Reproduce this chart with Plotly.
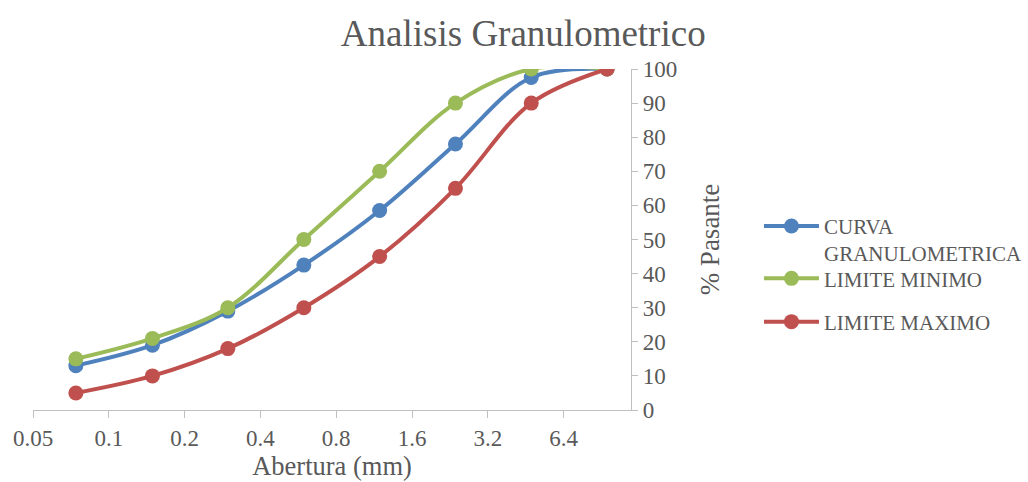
import plotly.graph_objects as go
import math

aberturas = [0.074, 0.149, 0.297, 0.595, 1.19, 2.38, 4.76, 9.52]
curva = [13, 19, 29, 42.5, 58.5, 78, 97.5, 100]
limite_minimo = [15, 21, 30, 50, 70, 90, 100, 100]
limite_maximo = [5, 10, 18, 30, 45, 65, 90, 100]
x_ticks = [0.05, 0.1, 0.2, 0.4, 0.8, 1.6, 3.2, 6.4]
x_tick_text = ["0.05", "0.1", "0.2", "0.4", "0.8", "1.6", "3.2", "6.4"]
y_ticks = list(range(0, 101, 10))

FONT = "Liberation Serif"
GRAY = "#595959"

series = [
    ("CURVA<br>GRANULOMETRICA", curva, "#4F81BD", "legend"),
    ("LIMITE MINIMO", limite_minimo, "#9BBB59", "legend2"),
    ("LIMITE MAXIMO", limite_maximo, "#C0504D", "legend3"),
]

fig = go.Figure()
for name, vals, color, leg in series:
    fig.add_trace(go.Scatter(
        x=aberturas, y=vals, name=name, mode="lines+markers",
        line=dict(color=color, width=4, shape="spline", smoothing=1.0),
        marker=dict(color=color, size=15),
        legend=leg, showlegend=True,
    ))

legend_common = dict(
    xanchor="left", yanchor="middle",
    font=dict(family=FONT, size=21, color=GRAY),
    valign="top", itemwidth=55,
    bgcolor="rgba(0,0,0,0)",
)
lx = 1.214

fig.update_layout(
    width=1028, height=482,
    showlegend=True,
    paper_bgcolor="white", plot_bgcolor="white",
    margin=dict(l=33, r=397, t=69, b=72, autoexpand=False),
    font=dict(family=FONT, color=GRAY, size=23),
    title=dict(text="Analisis Granulometrico", x=0.509, xanchor="center",
               y=0.932, yanchor="middle",
               font=dict(family=FONT, size=37, color=GRAY)),
    xaxis=dict(
        type="log", range=[math.log10(0.05), math.log10(11.85)],
        tickvals=x_ticks, ticktext=x_tick_text,
        showgrid=False, zeroline=False,
        showline=True, linecolor="#BFBFBF", linewidth=1.3,
        ticks="outside", ticklen=7, tickcolor="#BFBFBF",
        tickfont=dict(family=FONT, size=23, color=GRAY),
        title=dict(text="Abertura (mm)", standoff=2,
                   font=dict(family=FONT, size=26.5, color=GRAY)),
    ),
    yaxis=dict(
        side="right", range=[0, 100], tickvals=y_ticks,
        showgrid=False, zeroline=False,
        showline=True, linecolor="#BFBFBF", linewidth=1.3,
        ticks="outside", ticklen=6, tickcolor="#BFBFBF",
        tickfont=dict(family=FONT, size=23, color=GRAY),
        title=dict(text="% Pasante", standoff=23,
                   font=dict(family=FONT, size=27, color=GRAY)),
    ),
    legend=dict(x=lx, y=0.499, **legend_common),
    legend2=dict(x=lx, y=0.385, **legend_common),
    legend3=dict(x=lx, y=0.258, **legend_common),
)

fig.write_html("out.html")
